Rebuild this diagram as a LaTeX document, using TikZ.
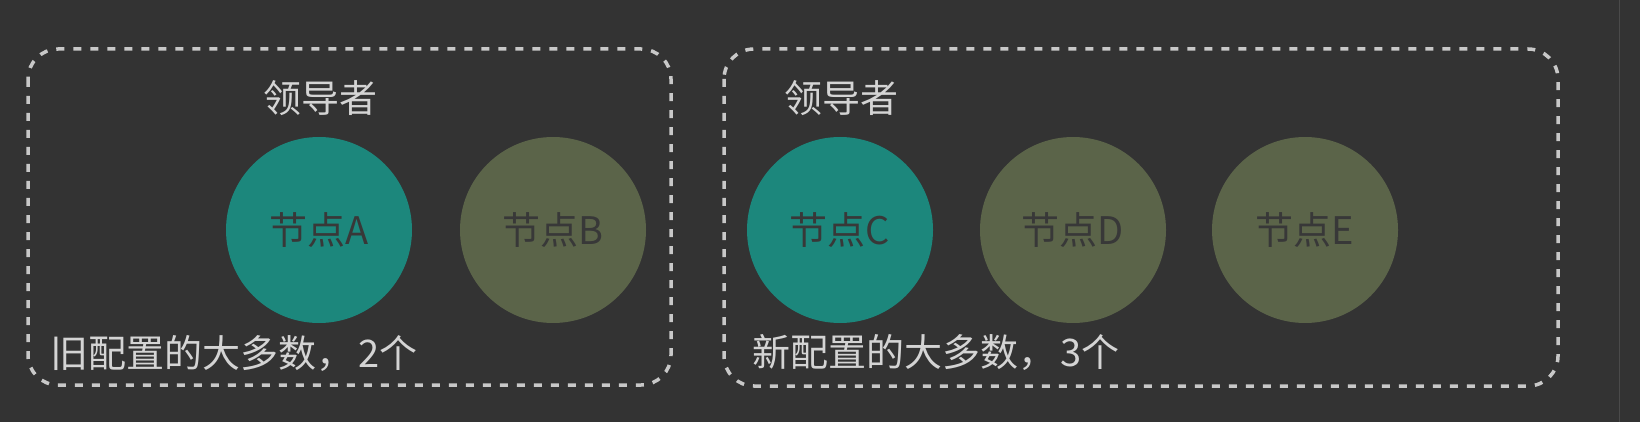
\documentclass[tikz,border=0pt]{standalone}
\usepackage{fontspec}
\newfontfamily\cjk{Noto Sans CJK SC}
\definecolor{bg}{HTML}{333333}
\definecolor{teal1}{HTML}{1C877C}
\definecolor{olive1}{HTML}{5B6449}
\definecolor{lite}{HTML}{D4D4D4}
\definecolor{dashc}{HTML}{C8C8C8}
\definecolor{dark1}{HTML}{383838}
\definecolor{sepc}{HTML}{4A4A4A}
\begin{document}
\begin{tikzpicture}[x=1pt,y=-1pt,
  groupbox/.style={draw=dashc, line width=3.5pt, dash pattern=on 8pt off 9pt, rounded corners=30pt},
  member/.style={circle, minimum size=186pt, inner sep=0pt, font=\cjk\fontsize{38}{44}\selectfont, text=dark1},
  leadernode/.style={member, fill=teal1},
  follower/.style={member, fill=olive1},
  caption/.style={font=\cjk\fontsize{38}{44}\selectfont, text=lite, inner sep=0pt}
]
\fill[bg] (0,0) rectangle (1640,422);
\useasboundingbox (0,0) rectangle (1640,422);
\draw[sepc, line width=1pt] (1619,0) -- (1619,422);
% boxes
\draw[groupbox] (28,49) rectangle (671,385);
\draw[groupbox] (724,49) rectangle (1558,386);
% circles
\node[leadernode] (A) at (319,230) {节点A};
\node[follower] (B) at (553,230) {节点B};
\node[leadernode] (C) at (840,230) {节点C};
\node[follower] (D) at (1073,230) {节点D};
\node[follower] (E) at (1305,230) {节点E};
% labels
\node[caption] (la) at (320,98) {领导者};
\node[caption] (lc) at (841,98) {领导者};
\node[caption, anchor=west] (oldm) at (50,353) {旧配置的大多数，\hspace{4pt}2个};
\node[caption, anchor=west] (newm) at (752,352) {新配置的大多数，\hspace{4pt}3个};
\end{tikzpicture}
\end{document}
